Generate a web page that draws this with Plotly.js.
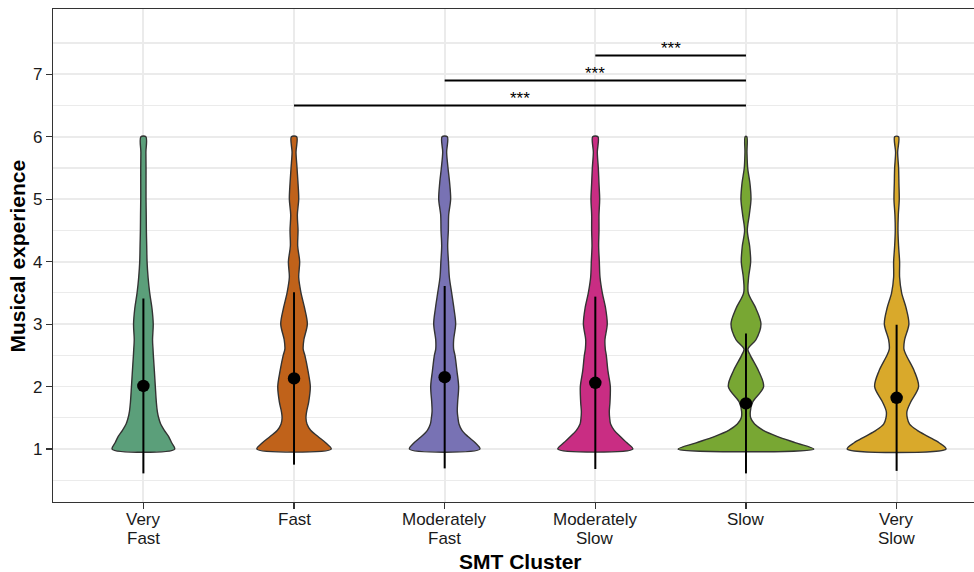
<!DOCTYPE html>
<html>
<head>
<meta charset="utf-8">
<script src="https://cdn.plot.ly/plotly-3.0.1.min.js"></script>
<style>
html, body { margin: 0; padding: 0; overflow: hidden; background: #fff; }
#chart { width: 990px; height: 572px; }
</style>
</head>
<body>
<div id="chart"></div>
<script>
// ---------------- data ----------------
const categories = ["Very Fast", "Fast", "Moderately Fast", "Moderately Slow", "Slow", "Very Slow"];
const tickLabels = ["Very<br>Fast", "Fast", "Moderately<br>Fast", "Moderately<br>Slow", "Slow", "Very<br>Slow"];

// y positions where violin density (relative width) is read
const densityY = [1, 1.1, 1.2, 1.3, 1.4, 1.5, 1.6, 1.75, 2, 2.25, 2.5, 2.6, 2.75, 3, 3.25, 3.5, 3.75, 4, 4.25, 4.5, 4.75, 5, 5.25, 5.5, 5.75, 6];

// relative density (1 = widest violin point across all groups)
const densVeryFast = [.461, .417, .373, .309, .255, .225, .206, .191, .176, .162, .147, .142, .135, .145, .127, .093, .069, .054, .049, .044, .042, .039, .039, .039, .037, .037];
const densFast     = [.549, .466, .353, .245, .191, .176, .186, .216, .240, .206, .160, .135, .145, .196, .157, .103, .069, .083, .054, .059, .049, .069, .059, .044, .029, .039];
const densModFast  = [.520, .451, .343, .255, .211, .196, .186, .191, .206, .181, .152, .132, .132, .162, .137, .103, .069, .056, .044, .054, .059, .088, .074, .049, .029, .039];
const densModSlow  = [.554, .466, .368, .279, .225, .211, .206, .216, .221, .186, .162, .147, .142, .176, .152, .103, .069, .059, .049, .054, .054, .064, .054, .044, .029, .039];
const densSlow     = [1.0, .735, .466, .255, .127, .069, .064, .098, .260, .186, .064, .029, .147, .221, .147, .034, .039, .069, .054, .020, .049, .074, .059, .025, .015, .012];
const densVerySlow = [.730, .627, .466, .304, .191, .157, .152, .206, .324, .260, .142, .108, .118, .181, .142, .074, .044, .044, .029, .020, .025, .039, .034, .029, .015, .029];

// group means and standard deviations
const means = [2.01, 2.13, 2.15, 2.06, 1.73, 1.82];
const sds   = [1.40, 1.38, 1.46, 1.38, 1.12, 1.17];

// significance comparisons (category positions 1-based)
const sigFrom  = [2, 3, 4];
const sigTo    = [5, 5, 5];
const sigY     = [6.5, 6.9, 7.3];
const sigLabel = ["***", "***", "***"];

const yTicks = [1, 2, 3, 4, 5, 6, 7];
const yMinor = [0.5, 1.5, 2.5, 3.5, 4.5, 5.5, 6.5, 7.5];

// ---------------- styles ----------------
const palette = ["#5B9F7A", "#C0621A", "#7872B4", "#C92D83", "#78A733", "#D9A92B"];
const maxHalfWidth = 0.45;
const FONT = "Liberation Sans, Arial, Helvetica, sans-serif";

const densities = [densVeryFast, densFast, densModFast, densModSlow, densSlow, densVerySlow];
const positions = categories.map((c, i) => i + 1);

const traces = [];
densities.forEach((dens, g) => {
  const c = positions[g];
  const xs = [], ys = [];
  for (let i = 0; i < densityY.length; i++) { xs.push(c - dens[i] * maxHalfWidth); ys.push(densityY[i]); }
  for (let i = densityY.length - 1; i >= 0; i--) { xs.push(c + dens[i] * maxHalfWidth); ys.push(densityY[i]); }
  xs.push(xs[0]); ys.push(ys[0]);
  traces.push({
    type: "scatter", mode: "lines", x: xs, y: ys,
    fill: "toself", fillcolor: palette[g],
    line: { color: "#333333", width: 1.4, shape: "spline", smoothing: 0.9 },
    hoverinfo: "skip", name: categories[g]
  });
});

traces.push({
  type: "scatter", mode: "markers", x: positions, y: means,
  marker: { color: "#000", size: 12.5 },
  error_y: { type: "data", array: sds, symmetric: true, color: "#000", thickness: 2, width: 0 },
  hoverinfo: "skip"
});

const annotations = [];
sigFrom.forEach((f, k) => {
  traces.push({
    type: "scatter", mode: "lines", x: [f, sigTo[k]], y: [sigY[k], sigY[k]],
    line: { color: "#000", width: 2 }, hoverinfo: "skip"
  });
  annotations.push({
    x: (f + sigTo[k]) / 2, y: sigY[k], xref: "x", yref: "y",
    text: sigLabel[k], showarrow: false, yanchor: "middle", yshift: 7,
    font: { family: FONT, size: 17, color: "#000" }
  });
});

// category tick labels, one annotation per text line (tight line spacing as in the reference)
tickLabels.forEach((lbl, g) => {
  lbl.split("<br>").forEach((line, j) => {
    annotations.push({
      x: positions[g], xref: "x", y: 0, yref: "paper",
      xanchor: "center", yanchor: "middle", yshift: -17.7 - j * 18.5,
      text: line, showarrow: false,
      font: { family: FONT, size: 17, color: "#1a1a1a" }
    });
  });
});

annotations.push({
  xref: "paper", yref: "paper", x: 0.5, y: -0.12, xanchor: "center", yanchor: "middle",
  text: "<b>SMT Cluster</b>", showarrow: false,
  font: { family: FONT, size: 21, color: "#000" }
});
annotations.push({
  xref: "paper", yref: "paper", x: -0.0375, y: 0.5, xanchor: "center", yanchor: "middle",
  text: "<b>Musical experience</b>", showarrow: false, textangle: -90,
  font: { family: FONT, size: 21, color: "#000" }
});

const axisCommon = {
  showgrid: true, gridcolor: "#EBEBEB", gridwidth: 1.8, zeroline: false,
  showline: true, mirror: true, linecolor: "#333333", linewidth: 1.1,
  ticks: "outside", ticklen: 6, tickcolor: "#333333", tickwidth: 1.1,
  tickfont: { family: FONT, size: 17, color: "#1a1a1a" }
};

const layout = {
  width: 990, height: 572,
  margin: { l: 53, r: 3, t: 9, b: 70 },
  paper_bgcolor: "#fff", plot_bgcolor: "#fff",
  showlegend: false, hovermode: false,
  xaxis: Object.assign({}, axisCommon, {
    range: [0.4, 6.6], tickmode: "array", tickvals: positions, showticklabels: false
  }),
  yaxis: Object.assign({}, axisCommon, {
    range: [0.152, 8.045], tickmode: "array", tickvals: yTicks,
    minor: { tickmode: "array", tickvals: yMinor, showgrid: true, gridcolor: "#EBEBEB", gridwidth: 1.1, ticks: "" }
  }),
  annotations: annotations
};

Plotly.newPlot("chart", traces, layout, { staticPlot: true, displayModeBar: false });
</script>
</body>
</html>
